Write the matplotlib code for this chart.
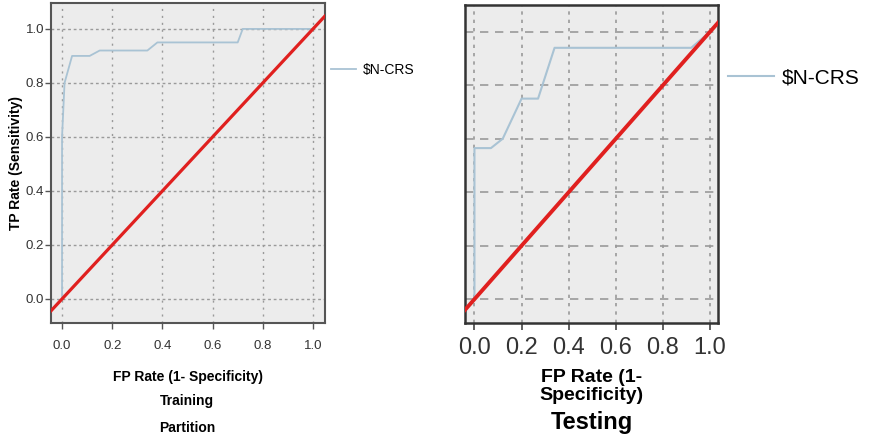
import numpy as np
import matplotlib
matplotlib.use("Agg")
import matplotlib.pyplot as plt

plt.rcParams["font.family"] = ["Liberation Sans", "DejaVu Sans"]

# ROC points
train_fpr = [0.0, 0.0, 0.01, 0.04, 0.11, 0.15, 0.34, 0.38, 0.70, 0.72, 1.0]
train_tpr = [0.0, 0.60, 0.80, 0.90, 0.90, 0.92, 0.92, 0.95, 0.95, 1.0, 1.0]
test_fpr = [0.0, 0.0, 0.07, 0.12, 0.20, 0.27, 0.34, 0.92, 1.0]
test_tpr = [0.0, 0.565, 0.565, 0.60, 0.75, 0.75, 0.94, 0.94, 1.0]
ref_line = [-0.1, 1.1]
ticks = [0.0, 0.2, 0.4, 0.6, 0.8, 1.0]
tick_labels = ["0.0", "0.2", "0.4", "0.6", "0.8", "1.0"]
series_name = "$N-CRS"

bg = "#ececec"
roc_col = "#a9c3d4"
red = "#e0201f"
grid_col = "#9a9a9a"

fig = plt.figure(figsize=(8.9, 4.41), dpi=100)

# ---- training panel
ax1 = fig.add_axes([0.0573, 0.2676, 0.3079, 0.7256])
ax1.set_facecolor(bg)
ax1.plot(train_fpr, train_tpr, color=roc_col, lw=1.3, label=series_name, zorder=3)
ax1.plot(ref_line, ref_line, color=red, lw=2.3, zorder=4)
ax1.set_xlim(-0.044, 1.048)
ax1.set_ylim(-0.089, 1.096)
ax1.set_xticks(ticks)
ax1.set_xticklabels(tick_labels, fontsize=9.5, color="#333333")
ax1.set_yticks(ticks)
ax1.set_yticklabels(tick_labels, fontsize=9.5, color="#333333")
ax1.tick_params(axis="x", length=4, width=1, color="#555555", pad=8)
ax1.tick_params(axis="y", length=4, width=1, color="#555555", pad=1)
ax1.grid(axis="x", color=grid_col, linestyle=(0, (1.5, 3.5)), lw=1)
ax1.grid(axis="y", color=grid_col, linestyle=(0, (2, 2)), lw=1)
ax1.set_axisbelow(True)
for s in ax1.spines.values():
    s.set_color("#555555")
    s.set_linewidth(1.5)
ax1.set_ylabel("TP Rate (Sensitivity)", fontsize=10, fontweight="bold", labelpad=2)
ax1.set_xlabel("FP Rate (1- Specificity)", fontsize=10, fontweight="bold", labelpad=13)
fig.text(0.21, 0.0907, "Training", fontsize=10, fontweight="bold", ha="center", va="center")
fig.text(0.21, 0.0295, "Partition", fontsize=10, fontweight="bold", ha="center", va="center")
ax1.legend(loc="center left", bbox_to_anchor=(1.0, 0.79), frameon=False,
           handlelength=1.8, handletextpad=0.5, borderaxespad=0.0, prop={"size": 10})

# ---- testing panel
ax2 = fig.add_axes([0.5225, 0.2676, 0.2843, 0.721])
ax2.set_facecolor(bg)
ax2.plot(test_fpr, test_tpr, color=roc_col, lw=1.5, label=series_name, zorder=3)
ax2.plot(ref_line, ref_line, color=red, lw=2.8, zorder=4)
ax2.set_xlim(-0.04, 1.034)
ax2.set_ylim(-0.089, 1.1)
ax2.set_xticks(ticks)
ax2.set_xticklabels(tick_labels, fontsize=17, color="#333333")
ax2.set_yticks(ticks)
ax2.tick_params(axis="y", left=False, labelleft=False)
ax2.tick_params(axis="x", length=5, width=1.2, color="#444444", pad=5)
ax2.grid(axis="x", color=grid_col, linestyle=(0, (2, 3)), lw=1.2)
ax2.grid(axis="y", color=grid_col, linestyle=(0, (5, 4)), lw=1.2)
ax2.set_axisbelow(True)
for s in ax2.spines.values():
    s.set_color("#333333")
    s.set_linewidth(1.8)
ax2.set_xlabel("FP Rate (1-\nSpecificity)", fontsize=14, fontweight="bold", labelpad=7, linespacing=1.1)
fig.text(0.665, 0.041, "Testing", fontsize=17, fontweight="bold", ha="center", va="center")
ax2.legend(loc="center left", bbox_to_anchor=(1.0, 0.77), frameon=False,
           handlelength=2.2, handletextpad=0.35, borderaxespad=0.1, prop={"size": 15})

fig.savefig("out.png", dpi=100, facecolor="white")
